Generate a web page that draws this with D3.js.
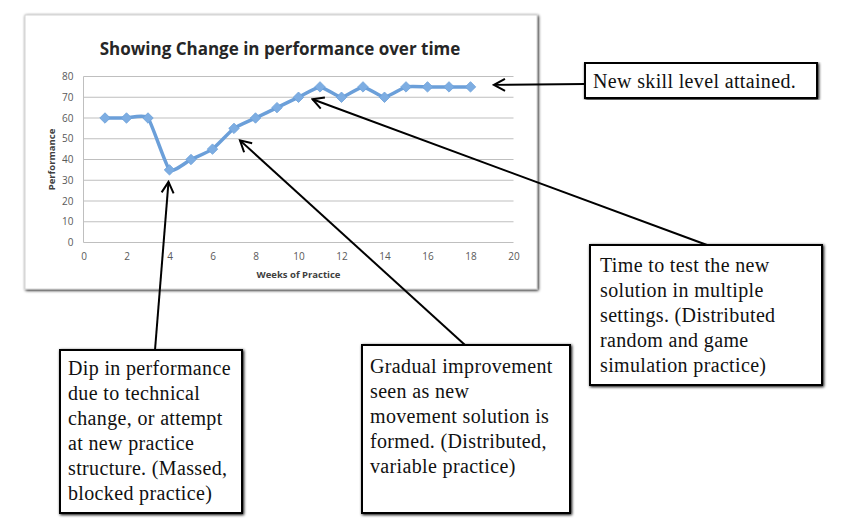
<!DOCTYPE html>
<html>
<head>
<meta charset="utf-8">
<script src="https://cdnjs.cloudflare.com/ajax/libs/d3/7.8.5/d3.min.js"></script>
<style>
  body { margin: 0; background: #fff; }
</style>
</head>
<body>
<svg id="chart"></svg>
<script>
var weeks = [1, 2, 3, 4, 5, 6, 7, 8, 9, 10, 11, 12, 13, 14, 15, 16, 17, 18];
var performance = [60, 60, 60, 35, 40, 45, 55, 60, 65, 70, 75, 70, 75, 70, 75, 75, 75, 75];
var xTicks = [0, 2, 4, 6, 8, 10, 12, 14, 16, 18, 20];
var yTicks = [0, 10, 20, 30, 40, 50, 60, 70, 80];

// callouts: text lines
var noteSkill = ["New skill level attained."];
var noteTest = ["Time to test the new", "solution in multiple", "settings. (Distributed", "random and game", "simulation practice)"];
var noteDip = ["Dip in performance", "due to technical", "change, or attempt", "at new practice", "structure. (Massed,", "blocked practice)"];
var noteGradual = ["Gradual improvement", "seen as new", "movement solution is", "formed. (Distributed,", "variable practice)"];

var svgWidth = 858, svgHeight = 523;
var svg = d3.select("#chart")
    .attr("width", svgWidth)
    .attr("height", svgHeight);

var defs = svg.append("defs");
var blur = defs.append("filter").attr("id", "shadow")
    .attr("x", "-5%").attr("y", "-5%").attr("width", "110%").attr("height", "110%");
blur.append("feGaussianBlur").attr("in", "SourceAlpha").attr("stdDeviation", 1.5);
blur.append("feOffset").attr("dx", 1).attr("dy", 1).attr("result", "b");
var merge = blur.append("feMerge");
merge.append("feMergeNode").attr("in", "b");
merge.append("feMergeNode").attr("in", "SourceGraphic");

defs.append("marker")
    .attr("id", "head")
    .attr("viewBox", "-14 -8 16 16")
    .attr("markerWidth", 16)
    .attr("markerHeight", 16)
    .attr("markerUnits", "userSpaceOnUse")
    .attr("orient", "auto")
    .append("path")
    .attr("d", "M-11,-6L0,0L-11,6")
    .attr("fill", "none")
    .attr("stroke", "#000")
    .attr("stroke-width", 2);

// chart frame
svg.append("rect")
    .attr("x", 25).attr("y", 15)
    .attr("width", 512).attr("height", 274)
    .attr("fill", "#fff")
    .attr("stroke", "#d4d4d4")
    .attr("filter", "url(#shadow)");

var x = d3.scaleLinear().domain([0, 20]).range([83.5, 513.5]);
var y = d3.scaleLinear().domain([0, 80]).range([242.5, 76.5]);

svg.append("text")
    .attr("x", 280).attr("y", 55)
    .attr("text-anchor", "middle")
    .attr("font-family", "Open Sans")
    .attr("font-weight", "bold")
    .attr("font-size", "17px")
    .attr("fill", "#262626")
    .text("Showing Change in performance over time");

// gridlines
svg.append("g")
    .selectAll("line")
    .data(yTicks)
    .enter().append("line")
    .attr("x1", x(0)).attr("x2", x(20))
    .attr("y1", function(d) { return y(d); })
    .attr("y2", function(d) { return y(d); })
    .attr("stroke", "#bfbfbf")
    .attr("stroke-width", 1);

svg.append("line")
    .attr("x1", x(0)).attr("x2", x(0))
    .attr("y1", y(80)).attr("y2", y(0))
    .attr("stroke", "#bfbfbf");

var yAxis = svg.append("g")
    .attr("transform", "translate(" + x(0) + ",0)")
    .call(d3.axisLeft(y).tickValues(yTicks).tickSize(0).tickPadding(10));
yAxis.select(".domain").remove();
yAxis.selectAll("text")
    .attr("font-family", "Open Sans")
    .attr("font-size", "10px")
    .attr("fill", "#595959");

var xAxis = svg.append("g")
    .attr("transform", "translate(0," + y(0) + ")")
    .call(d3.axisBottom(x).tickValues(xTicks).tickSize(0).tickPadding(10));
xAxis.select(".domain").remove();
xAxis.selectAll("text")
    .attr("font-family", "Open Sans")
    .attr("font-size", "10px")
    .attr("fill", "#595959");

svg.append("text")
    .attr("x", x(10)).attr("y", 278)
    .attr("text-anchor", "middle")
    .attr("font-family", "Open Sans")
    .attr("font-weight", "bold")
    .attr("font-size", "9.5px")
    .attr("fill", "#404040")
    .text("Weeks of Practice");

svg.append("text")
    .attr("transform", "translate(55," + y(40) + ") rotate(-90)")
    .attr("text-anchor", "middle")
    .attr("font-family", "Open Sans")
    .attr("font-weight", "bold")
    .attr("font-size", "9.5px")
    .attr("fill", "#404040")
    .text("Performance");

var data = weeks.map(function(w, i) { return { week: w, value: performance[i] }; });

var line = d3.line()
    .x(function(d) { return x(d.week); })
    .y(function(d) { return y(d.value); })
    .curve(d3.curveCardinal.tension(0.5));

svg.append("path")
    .datum(data)
    .attr("fill", "none")
    .attr("stroke", "#6b9fd9")
    .attr("stroke-width", 3.5)
    .attr("stroke-linejoin", "round")
    .attr("stroke-linecap", "round")
    .attr("d", line);

svg.append("g")
    .selectAll("path")
    .data(data)
    .enter().append("path")
    .attr("transform", function(d) { return "translate(" + x(d.week) + "," + y(d.value) + ")"; })
    .attr("d", d3.symbol().type(d3.symbolDiamond2).size(70))
    .attr("fill", "#7dade2")
    .attr("stroke", "#6b9fd9")
    .attr("stroke-width", 0.8);

// callout boxes
function callout(lines, bx, by, bw, bh, tx, ty) {
    var g = svg.append("g");
    g.append("rect")
        .attr("x", bx).attr("y", by)
        .attr("width", bw).attr("height", bh)
        .attr("fill", "#fff")
        .attr("stroke", "#000")
        .attr("stroke-width", 2)
        .attr("filter", "url(#shadow)");
    g.selectAll("text")
        .data(lines)
        .enter().append("text")
        .attr("x", tx)
        .attr("y", function(d, i) { return ty + i * 25; })
        .attr("font-family", "Liberation Serif")
        .attr("font-size", "20px")
        .attr("letter-spacing", "0.35px")
        .attr("fill", "#111")
        .text(function(d) { return d; });
}

function arrow(x1, y1, x2, y2) {
    svg.append("line")
        .attr("x1", x1).attr("y1", y1)
        .attr("x2", x2).attr("y2", y2)
        .attr("stroke", "#000")
        .attr("stroke-width", 2)
        .attr("marker-end", "url(#head)");
}

arrow(585, 84, x(19) + 2, y(75) - 2);
arrow(707, 245, x(10) + 14, y(70) + 2);
arrow(155, 350, x(4) - 1, y(35) + 12);
arrow(465, 345, x(7) + 6, y(55) + 12);

callout(noteSkill, 585, 63, 232, 35, 593, 88);
callout(noteTest, 590, 245, 232, 140, 600, 272);
callout(noteDip, 60, 350, 182, 163, 68, 375);
callout(noteGradual, 362, 345, 208, 168, 370, 373);
</script>
</body>
</html>
